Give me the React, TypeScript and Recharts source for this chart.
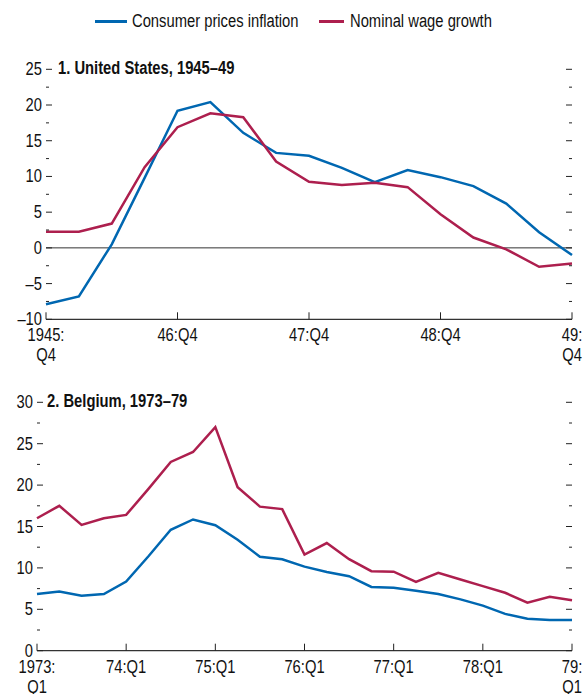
import { LineChart, Line, XAxis, YAxis, ReferenceLine } from "recharts";

const usQuarters = [
  "1945:Q4", "46:Q1", "46:Q2", "46:Q3", "46:Q4", "47:Q1", "47:Q2", "47:Q3", "47:Q4",
  "48:Q1", "48:Q2", "48:Q3", "48:Q4", "49:Q1", "49:Q2", "49:Q3", "49:Q4",
];
const usCpi = [-7.9, -6.8, 0.5, 9.8, 19.2, 20.4, 16.1, 13.3, 12.9, 11.2, 9.2, 10.9, 9.9, 8.65, 6.2, 2.2, -1.0];
const usWages = [2.25, 2.25, 3.4, 11.3, 16.9, 18.85, 18.3, 12.1, 9.25, 8.8, 9.1, 8.5, 4.7, 1.45, -0.2, -2.65, -2.2];
const usTicks = [-10, -7.5, -5, -2.5, 0, 2.5, 5, 7.5, 10, 12.5, 15, 17.5, 20, 22.5, 25];

const beQuarters = [
  "1973:Q1", "73:Q2", "73:Q3", "73:Q4", "74:Q1", "74:Q2", "74:Q3", "74:Q4",
  "75:Q1", "75:Q2", "75:Q3", "75:Q4", "76:Q1", "76:Q2", "76:Q3", "76:Q4",
  "77:Q1", "77:Q2", "77:Q3", "77:Q4", "78:Q1", "78:Q2", "78:Q3", "78:Q4", "79:Q1",
];
const beCpi = [
  6.85, 7.15, 6.65, 6.85, 8.35, 11.4, 14.6, 15.85, 15.15, 13.4, 11.35, 11.05, 10.15,
  9.5, 9.0, 7.7, 7.6, 7.25, 6.85, 6.2, 5.45, 4.45, 3.85, 3.7, 3.7,
];
const beWages = [
  16.0, 17.5, 15.2, 16.0, 16.4, 19.55, 22.8, 24.0, 27.0, 19.75, 17.4, 17.1, 11.6,
  13.0, 11.05, 9.6, 9.55, 8.3, 9.4, 8.6, 7.8, 7.0, 5.8, 6.5, 6.1,
];
const beTicks = [0, 2.5, 5, 7.5, 10, 12.5, 15, 17.5, 20, 22.5, 25, 27.5, 30];

const BLUE = "#0067b1";
const RED = "#ad1f4e";
const FONT = "'Liberation Sans', Arial, sans-serif";
const NARROW = 0.82; // squeeze Liberation Sans to look like Arial Narrow
const W = 585;

const usData = usQuarters.map((q, i) => ({ q, cpi: usCpi[i], wages: usWages[i] }));
const beData = beQuarters.map((q, i) => ({ q, cpi: beCpi[i], wages: beWages[i] }));

function makeYTick(plotRight: number) {
  return (props: any) => {
    const { x, y, payload } = props;
    const v = payload.value;
    const major = v % 5 === 0;
    const len = major ? 6 : 3;
    const label = v < 0 ? "\u2013" + Math.abs(v) : String(v);
    return (
      <g>
        <line x1={x} x2={x + len} y1={y} y2={y} stroke="#222" strokeWidth={1} />
        <line x1={plotRight} x2={plotRight - len} y1={y} y2={y} stroke="#222" strokeWidth={1} />
        {major && (
          <text
            transform={`translate(${x - 4},${y}) scale(${NARROW},1)`}
            dy={6}
            textAnchor="end"
            fontSize={18}
            fontFamily={FONT}
            fill="#111"
          >
            {label}
          </text>
        )}
      </g>
    );
  };
}

function makeXTick(ends: string[]) {
  return (props: any) => {
    const { x, y, payload } = props;
    const val: string = payload.value;
    const parts = ends.includes(val) ? [val.split(":")[0] + ":", val.split(":")[1]] : [val];
    return (
      <g>
        <line x1={x} x2={x} y1={y} y2={y - 7} stroke="#222" strokeWidth={1} />
        {parts.map((p, i) => (
          <text
            key={i}
            transform={`translate(${x},${y + 22 + i * 20}) scale(${NARROW},1)`}
            textAnchor="middle"
            fontSize={18}
            fontFamily={FONT}
            fill="#111"
          >
            {p}
          </text>
        ))}
      </g>
    );
  };
}

function Panel({ data, quarters, ticks, domain, top, height, margin, yWidth, zero }: any) {
  const plotRight = W - margin.right;
  const ends = [quarters[0], quarters[quarters.length - 1]];
  return (
    <div style={{ position: "absolute", left: 0, top }}>
      <LineChart width={W} height={height} data={data} margin={margin}>
        <XAxis
          dataKey="q"
          interval={3}
          height={40}
          tickSize={0}
          tickMargin={0}
          axisLine={{ stroke: "#333", strokeWidth: 1.3 }}
          tickLine={false}
          tick={makeXTick(ends)}
        />
        <YAxis
          domain={domain}
          ticks={ticks}
          interval={0}
          width={yWidth}
          tickSize={0}
          tickMargin={0}
          axisLine={false}
          tickLine={false}
          allowDataOverflow
          tick={makeYTick(plotRight)}
        />
        {zero && <ReferenceLine y={0} stroke="#333" strokeWidth={1} />}
        <Line dataKey="cpi" stroke={BLUE} strokeWidth={2.5} dot={false} isAnimationActive={false} />
        <Line dataKey="wages" stroke={RED} strokeWidth={2.5} dot={false} isAnimationActive={false} />
      </LineChart>
    </div>
  );
}

const narrowText = {
  position: "absolute" as const,
  fontFamily: FONT,
  fontSize: 18,
  color: "#111",
  whiteSpace: "nowrap" as const,
  transform: `scaleX(${NARROW})`,
  transformOrigin: "0 50%",
  lineHeight: "20px",
};

export default function App() {
  return (
    <div style={{ position: "absolute", left: 0, top: 0, width: W, height: 694, background: "#fff", overflow: "hidden" }}>
      <Panel
        data={usData}
        quarters={usQuarters}
        ticks={usTicks}
        domain={[-10, 25]}
        top={0}
        height={380}
        margin={{ top: 69.3, right: 13, bottom: 20.7, left: 0 }}
        yWidth={46}
        zero
      />
      <Panel
        data={beData}
        quarters={beQuarters}
        ticks={beTicks}
        domain={[0, 30]}
        top={380}
        height={314}
        margin={{ top: 22.3, right: 13, bottom: 3.3, left: 0 }}
        yWidth={37}
      />
      <div style={{ position: "absolute", left: 95, top: 20, width: 32, height: 2.5, background: BLUE }} />
      <div style={{ ...narrowText, left: 132, top: 11 }}>Consumer prices inflation</div>
      <div style={{ position: "absolute", left: 319, top: 20, width: 25, height: 2.5, background: RED }} />
      <div style={{ ...narrowText, left: 350, top: 11 }}>Nominal wage growth</div>
      <div style={{ ...narrowText, left: 58, top: 58, fontWeight: "bold" }}>1. United States, 1945–49</div>
      <div style={{ ...narrowText, left: 47, top: 391, fontWeight: "bold" }}>2. Belgium, 1973–79</div>
    </div>
  );
}
